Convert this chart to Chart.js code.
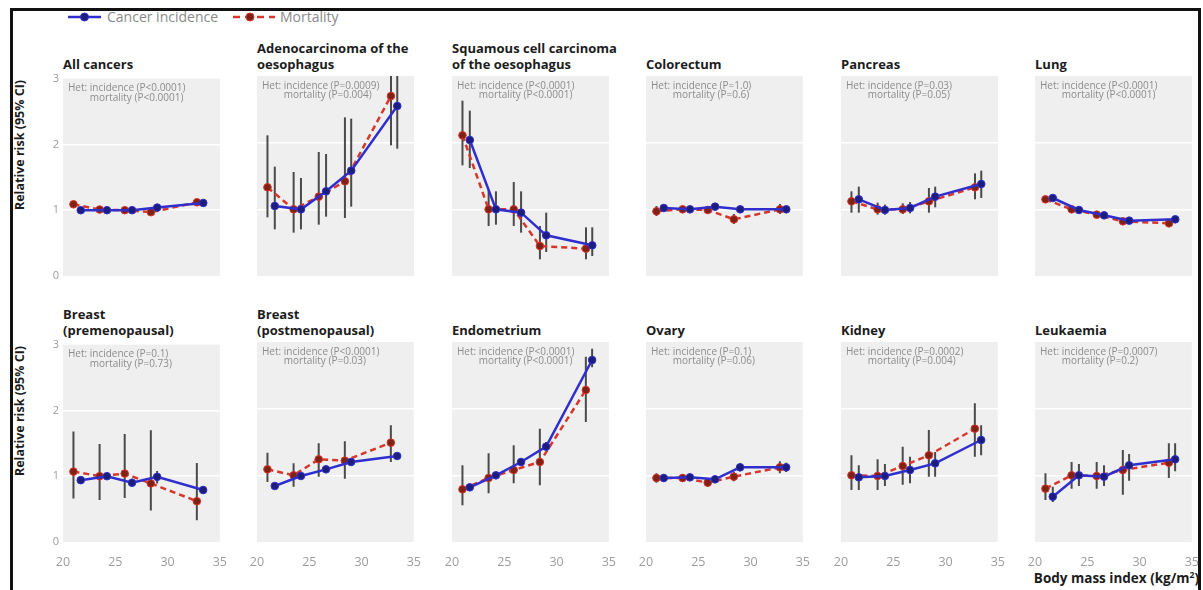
<!DOCTYPE html>
<html>
<head>
<meta charset="utf-8">
<script src="https://cdn.jsdelivr.net/npm/chart.js@4.4.1/dist/chart.umd.min.js"></script>
<style>
  html, body { margin: 0; padding: 0; background: #fff; }
  body { width: 1203px; height: 590px; position: relative; overflow: hidden; font-family: "Open Sans", sans-serif; }
  .frame { position: absolute; left: 10px; top: 8px; width: 1191px; height: 620px; border: 3px solid #111; border-bottom: none; box-sizing: border-box; }
  canvas.panel { position: absolute; }
  .site { position: absolute; font-weight: 700; font-size: 13px; line-height: 16px; color: #1c1c1c; white-space: nowrap; }
  .ytitle { position: absolute; font-weight: 700; font-size: 12.5px; color: #1c1c1c; white-space: nowrap; transform: translate(-50%, -50%) rotate(-90deg); }
  .xtitle { position: absolute; right: 4px; top: 569px; font-weight: 700; font-size: 13.5px; color: #1c1c1c; white-space: nowrap; }
  .xtitle sup { font-size: 8.5px; line-height: 0; }
  .legend-text { position: absolute; top: 7px; font-size: 14px; line-height: 20px; color: #8a8a8a; white-space: nowrap; }
  svg.legend { position: absolute; left: 60px; top: 8px; }
</style>
</head>
<body>
<div class="frame"></div>
<svg class="legend" width="230" height="20" viewBox="0 0 230 20">
  <line x1="8" y1="9" x2="41" y2="9" stroke="#2f2fd0" stroke-width="2.5"/>
  <circle cx="24.5" cy="9" r="4" fill="#1d1d7c" stroke="#2f2fd0" stroke-width="1"/>
  <line x1="173" y1="9" x2="215" y2="9" stroke="#d8352b" stroke-width="2.5" stroke-dasharray="7 5"/>
  <circle cx="190" cy="9" r="4" fill="#7e2216" stroke="#d8352b" stroke-width="1"/>
</svg>
<div class="legend-text" style="left:107px">Cancer incidence</div>
<div class="legend-text" style="left:280px">Mortality</div>
<div class="ytitle" style="left:19px; top:145px">Relative risk (95% CI)</div>
<div class="ytitle" style="left:19px; top:411px">Relative risk (95% CI)</div>
<div class="xtitle">Body mass index (kg/m<sup>2</sup>)</div>

<script>
// Cancer sites, one small panel each (two rows of six)
const sites = [
  ["All cancers"], ["Adenocarcinoma of the", "oesophagus"], ["Squamous cell carcinoma", "of the oesophagus"],
  ["Colorectum"], ["Pancreas"], ["Lung"],
  ["Breast", "(premenopausal)"], ["Breast", "(postmenopausal)"], ["Endometrium"],
  ["Ovary"], ["Kidney"], ["Leukaemia"]
];

// Heterogeneity P values printed in each panel
const hetIncidence = ["P<0.0001", "P=0.0009", "P<0.0001", "P=1.0", "P=0.03", "P<0.0001",
                      "P=0.1", "P<0.0001", "P<0.0001", "P=0.1", "P=0.0002", "P=0.0007"];
const hetMortality = ["P<0.0001", "P=0.004", "P<0.0001", "P=0.6", "P=0.05", "P<0.0001",
                      "P=0.73", "P=0.03", "P<0.0001", "P=0.06", "P=0.004", "P=0.2"];

// Mean BMI of each category (mortality plotted slightly to the left)
const bmiIncidence = [21.7, 24.2, 26.6, 29.0, 33.4];
const bmiMortality = [21.0, 23.5, 25.9, 28.4, 32.8];

// Relative risks and 95% CI, one row per site
const incidenceRR = [
  [1.00, 1.00, 1.00, 1.04, 1.11], [1.05, 1.00, 1.27, 1.58, 2.55], [2.04, 1.00, 0.95, 0.61, 0.46],
  [1.02, 1.00, 1.04, 1.00, 1.00], [1.15, 0.99, 1.02, 1.19, 1.38], [1.17, 0.99, 0.91, 0.83, 0.85],
  [0.94, 1.00, 0.90, 0.99, 0.79], [0.84, 0.99, 1.09, 1.20, 1.29], [0.82, 1.00, 1.20, 1.43, 2.73],
  [0.96, 0.97, 0.94, 1.12, 1.12], [0.97, 0.99, 1.08, 1.18, 1.53], [0.68, 1.00, 0.98, 1.15, 1.24]
];
const incidenceLow = [
  [0.99, 0.99, 0.99, 1.03, 1.09], [0.70, 0.70, 0.89, 1.04, 1.91], [1.62, 0.77, 0.65, 0.36, 0.30],
  [0.97, 0.98, 1.00, 0.97, 0.96], [0.95, 0.92, 0.94, 1.03, 1.17], [1.13, 0.97, 0.89, 0.81, 0.82],
  [0.89, 0.95, 0.85, 0.89, 0.73], [0.82, 0.97, 1.07, 1.17, 1.26], [0.78, 0.96, 1.15, 1.37, 2.62],
  [0.90, 0.92, 0.89, 1.06, 1.05], [0.78, 0.84, 0.88, 0.98, 1.30], [0.60, 0.84, 0.84, 0.92, 1.06]
];
const incidenceHigh = [
  [1.01, 1.01, 1.01, 1.05, 1.13], [1.64, 1.47, 1.83, 2.36, 3.10], [2.48, 1.27, 1.27, 0.95, 0.73],
  [1.07, 1.02, 1.08, 1.03, 1.05], [1.34, 1.07, 1.11, 1.34, 1.58], [1.21, 1.01, 0.93, 0.85, 0.88],
  [0.99, 1.05, 0.96, 1.08, 0.85], [0.86, 1.01, 1.11, 1.23, 1.32], [0.86, 1.04, 1.25, 1.50, 2.90],
  [1.02, 1.02, 0.99, 1.18, 1.19], [1.15, 1.17, 1.28, 1.35, 1.75], [0.83, 1.17, 1.15, 1.32, 1.48]
];
const mortalityRR = [
  [1.09, 1.01, 1.00, 0.97, 1.12], [1.33, 1.00, 1.19, 1.42, 2.70], [2.11, 1.00, 1.00, 0.45, 0.41],
  [0.97, 1.00, 0.99, 0.85, 1.00], [1.12, 1.00, 1.00, 1.12, 1.33], [1.15, 1.00, 0.92, 0.82, 0.79],
  [1.07, 1.00, 1.04, 0.89, 0.62], [1.09, 1.00, 1.24, 1.22, 1.49], [0.79, 0.96, 1.08, 1.20, 2.28],
  [0.96, 0.96, 0.89, 0.98, 1.12], [1.00, 0.99, 1.14, 1.30, 1.70], [0.80, 1.00, 0.99, 1.08, 1.19]
];
const mortalityLow = [
  [1.06, 0.99, 0.98, 0.95, 1.09], [0.88, 0.65, 0.77, 0.87, 1.96], [1.66, 0.75, 0.75, 0.25, 0.25],
  [0.90, 0.96, 0.94, 0.78, 0.93], [0.95, 0.92, 0.93, 0.95, 1.15], [1.11, 0.98, 0.90, 0.80, 0.76],
  [0.66, 0.64, 0.67, 0.48, 0.33], [0.90, 0.83, 0.98, 0.95, 1.20], [0.55, 0.73, 0.88, 0.85, 1.80],
  [0.89, 0.90, 0.83, 0.91, 1.03], [0.78, 0.78, 0.86, 0.98, 1.28], [0.63, 0.80, 0.80, 0.71, 0.96]
];
const mortalityHigh = [
  [1.12, 1.03, 1.02, 0.99, 1.15], [2.11, 1.56, 1.86, 2.38, 3.10], [2.63, 1.29, 1.41, 0.75, 0.73],
  [1.05, 1.04, 1.05, 0.93, 1.08], [1.27, 1.10, 1.09, 1.32, 1.54], [1.19, 1.02, 0.94, 0.84, 0.82],
  [1.68, 1.49, 1.64, 1.70, 1.20], [1.34, 1.18, 1.48, 1.51, 1.75], [1.15, 1.33, 1.45, 1.70, 2.78],
  [1.03, 1.02, 0.95, 1.05, 1.21], [1.30, 1.24, 1.43, 1.68, 2.08], [1.03, 1.20, 1.20, 1.38, 1.48]
];

// Axis ticks
const xTicks = [20, 25, 30, 35];
const yTicks = [0, 1, 2, 3];

// Panel grid geometry (plot-area corners on the page)
const COL_X = [63, 257, 452, 646, 841, 1035];
const ROW_Y = [76, 342];
const PANEL_W = 157, PANEL_H = 200;
const PAD_L = 22, PAD_T = 8, PAD_R = 12, PAD_B = 26;

const BLUE = '#2f2fd0', BLUE_DOT = '#1d1d7c';
const RED = '#d8352b', RED_DOT = '#7e2216';

function panelDecor(p) {
  return {
    id: 'panelDecor' + p,
    beforeDraw(chart) {
      const { ctx, chartArea: a } = chart;
      ctx.save();
      ctx.fillStyle = '#efefef';
      ctx.fillRect(a.left, a.top, a.right - a.left, a.bottom - a.top);
      ctx.restore();
    },
    beforeDatasetsDraw(chart) {
      const { ctx, chartArea: a, scales: { x, y } } = chart;
      ctx.save();
      // heterogeneity note
      ctx.font = '10px "Open Sans"';
      ctx.fillStyle = '#8c8c8c';
      ctx.textBaseline = 'middle';
      const x0 = a.left + 5;
      ctx.fillText('Het: incidence (' + hetIncidence[p] + ')', x0, a.top + 10);
      const indent = ctx.measureText('Het: ').width;
      ctx.fillText('mortality (' + hetMortality[p] + ')', x0 + indent, a.top + 19.5);
      // 95% CI bars
      ctx.beginPath();
      ctx.rect(a.left, a.top, a.right - a.left, a.bottom - a.top);
      ctx.clip();
      ctx.strokeStyle = 'rgba(45,45,45,0.85)';
      ctx.lineWidth = 2;
      const sets = [
        [bmiIncidence, incidenceLow[p], incidenceHigh[p]],
        [bmiMortality, mortalityLow[p], mortalityHigh[p]]
      ];
      sets.forEach(([xs, lo, hi]) => {
        xs.forEach((bx, i) => {
          const px = x.getPixelForValue(bx);
          ctx.beginPath();
          ctx.moveTo(px, y.getPixelForValue(lo[i]));
          ctx.lineTo(px, y.getPixelForValue(hi[i]));
          ctx.stroke();
        });
      });
      ctx.restore();
    }
  };
}

sites.forEach((lines, p) => {
  const col = p % 6, row = Math.floor(p / 6);
  const L = COL_X[col], T = ROW_Y[row];

  const title = document.createElement('div');
  title.className = 'site';
  title.style.left = L + 'px';
  title.style.top = (T - 20 - 16 * (lines.length - 1)) + 'px';
  title.innerHTML = lines.join('<br>');
  document.body.appendChild(title);

  const cv = document.createElement('canvas');
  cv.className = 'panel';
  cv.width = PAD_L + PANEL_W + PAD_R;
  cv.height = PAD_T + PANEL_H + PAD_B;
  cv.style.left = (L - PAD_L) + 'px';
  cv.style.top = (T - PAD_T) + 'px';
  document.body.appendChild(cv);

  new Chart(cv, {
    type: 'line',
    data: {
      datasets: [
        {
          label: 'Cancer incidence',
          data: bmiIncidence.map((b, i) => ({ x: b, y: incidenceRR[p][i] })),
          borderColor: BLUE, borderWidth: 2.5,
          pointRadius: 3.8, pointBackgroundColor: BLUE_DOT, pointBorderColor: BLUE, pointBorderWidth: 1
        },
        {
          label: 'Mortality',
          data: bmiMortality.map((b, i) => ({ x: b, y: mortalityRR[p][i] })),
          borderColor: RED, borderWidth: 2.5, borderDash: [6, 4],
          pointRadius: 3.8, pointBackgroundColor: RED_DOT, pointBorderColor: RED, pointBorderWidth: 1
        }
      ]
    },
    options: {
      responsive: false, animation: false, devicePixelRatio: 1,
      layout: { padding: { top: PAD_T, right: PAD_R, left: 0, bottom: 0 } },
      elements: { line: { tension: 0 } },
      plugins: { legend: { display: false }, tooltip: { enabled: false } },
      scales: {
        x: {
          type: 'linear', min: 20, max: 35,
          afterBuildTicks: s => { s.ticks = xTicks.map(v => ({ value: v })); },
          afterFit: s => { s.height = PAD_B; },
          grid: { display: false }, border: { display: false },
          ticks: { display: row === 1, color: '#9c9c9c', font: { size: 12.5, family: 'Open Sans' }, padding: 5, maxRotation: 0, autoSkip: false }
        },
        y: {
          type: 'linear', min: 0, max: 3,
          afterBuildTicks: s => { s.ticks = yTicks.map(v => ({ value: v })); },
          afterFit: s => { s.width = PAD_L; },
          grid: {
            color: c => (c.tick && (c.tick.value === 1 || c.tick.value === 2)) ? '#ffffff' : 'rgba(0,0,0,0)',
            lineWidth: 1.5, drawTicks: false
          },
          border: { display: false },
          ticks: { display: col === 0, color: '#9c9c9c', font: { size: 11, family: 'Open Sans' }, padding: 4 }
        }
      }
    },
    plugins: [panelDecor(p)]
  });
});
</script>
</body>
</html>
